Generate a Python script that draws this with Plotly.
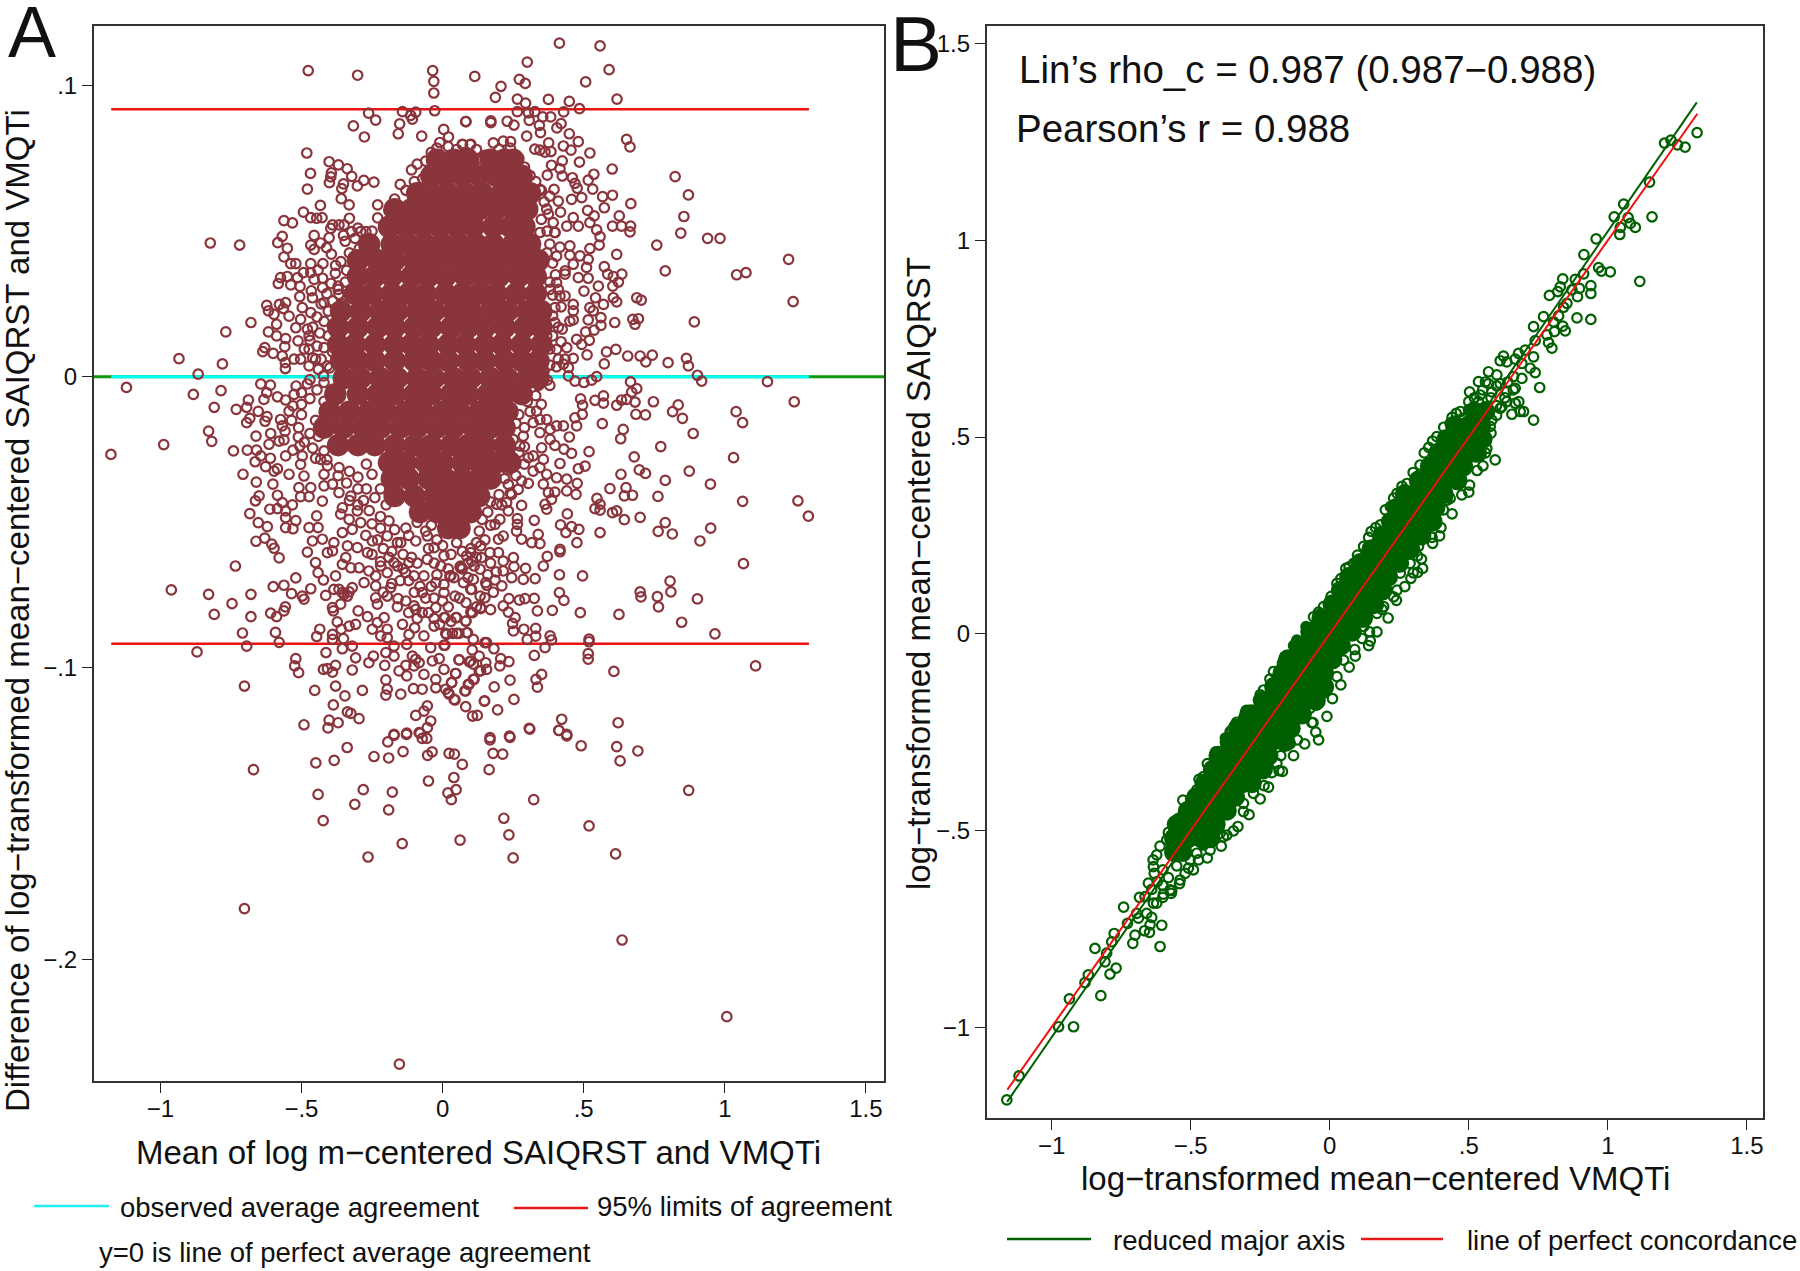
import plotly.graph_objects as go

W, H = 1800, 1271

# ---------- Panel A: values (mean, difference) ----------
a_upper_left = [(-.476,.1051),(-.301,.1035),(-.035,.1051),(-.031,.1014),(-.031,.0974),(-.028,.0913),(-.262,.0905),(-.237,.0881),(-.316,.0861),(-.277,.0823),
(-.142,.0910),(-.113,.0897),(-.095,.0908),(-.107,.0884),(-.152,.0868),(-.157,.0834),(-.074,.0826),(.004,.0849),(.021,.0823),(-.010,.0804),(.082,.0876),(.070,.0798),(.100,.0798),
(-.481,.0768),(-.468,.0698),(-.479,.0644),(-.402,.0738),(-.369,.0727),(-.338,.0714),(-.394,.0700),(-.396,.0686),(-.401,.0666),(-.322,.0688),(-.279,.0674),(-.243,.0668),(-.302,.0655),
(-.351,.0662),(-.357,.0646),(-.359,.0611),(-.331,.0590),(-.433,.0588),(-.493,.0565),(-.467,.0546),(-.446,.0544),(-.427,.0546),(-.562,.0536),(-.532,.0528),(-.330,.0544),
(-.390,.0521),(-.367,.0521),(-.349,.0521),(-.396,.0509),(-.322,.0498),(-.290,.0498),(-.272,.0498),(-.351,.0485),(-.272,.0466),(-.455,.0485),(-.402,.0477),(-.568,.0482),(-.584,.0460),(-.550,.0441),
(-.823,.0459),(-.719,.0452),(-.467,.0452),(-.432,.0459),(-.455,.0437),(-.411,.0443),(-.394,.0421),(-.562,.0411),(-.538,.0388),(-.520,.0388),(-.467,.0388),(-.424,.0388),(-.379,.0382),
(-.493,.0357),(-.441,.0366),(-.467,.0357),(-.574,.0340),(-.550,.0344),(-.582,.0320),(-.514,.0340),(-.455,.0334),(-.425,.0338),(-.538,.0315),(-.505,.0310),(-.425,.0306),(-.370,.0311),
(-.465,.0295),(-.461,.0271),(-.506,.0275),(-.367,.0283),(-.623,.0245),(-.578,.0248),(-.556,.0254),(-.617,.0226),(-.597,.0214),(-.497,.0237),(-.564,.0234),(-.420,.0254),(-.467,.0220),
(-.544,.0208),(-.503,.0197),(-.520,.0168),(-.679,.0186),(-.768,.0154),(-.617,.0154),(-.588,.0180),(-.588,.0140),(-.479,.0163),(-.512,.0123),(-.473,.0140),(-.556,.0131),(-.559,.0103),
(-.630,.0100),(-.637,.0086),(-.600,.0080),(-.568,.0071),(-.934,.0062),(-.780,.0044),(-.866,.0009),(-.557,.0048),(-.557,.0028),(-.526,.0060),(-.503,.0060),(-.473,.0094),(-.473,.0037),(-.450,.0060),(-.408,.0037),(-.422,.0003)]

a_upper_right = [(.414,.1145),(.558,.1136),(.300,.1080),(.590,.1054),(.507,.1012),(.114,.1031),(.207,.0997),(.272,.1021),(.293,.1007),(.187,.0959),(.265,.0953),(.294,.0939),(.375,.0952),(.449,.0945),(.618,.0953),
(.485,.0920),(.265,.0910),(.304,.0906),(.327,.0910),(.429,.0909),(.355,.0892),(.383,.0892),(.083,.0876),(.171,.0878),(.171,.0872),(.229,.0877),(.253,.0864),(.307,.0880),(.343,.0863),(.420,.0869),(.405,.0854),
(.347,.0838),(.298,.0826),(.449,.0834),(.481,.0807),(.428,.0792),(.376,.0803),(.652,.0815),(.664,.0789),(.522,.0768),(.455,.0778),(.327,.0781),(.345,.0778),(.363,.0771),(.384,.0773),(.071,.0797),(.098,.0797),
(.180,.0803),(.215,.0809),(.241,.0807),(.485,.0737),(.424,.0741),(.386,.0726),(.416,.0714),(.601,.0713),(.536,.0695),(.516,.0675),(.532,.0644),(.824,.0687),(.871,.0624),(.424,.0689),(.460,.0683),(.469,.0664),(.477,.0647),
(.371,.0692),(.395,.0643),(.567,.0618),(.602,.0623),(.667,.0594),(.573,.0580),(.410,.0603),(.457,.0609),(.493,.0615),(.418,.0565),(.514,.0571),(.537,.0552),(.626,.0552),(.855,.0550),(.463,.0546),(.375,.0558),
(.602,.0517),(.634,.0517),(.666,.0517),(.664,.0497),(.440,.0517),(.481,.0517),(.522,.0529),(.546,.0504),(.844,.0493),(.939,.0475),(.983,.0475),(.759,.0452),(.558,.0481),(.555,.0452),(.522,.0440),(.416,.0445),(.451,.0449),(.398,.0495),
(.617,.0420),(1.226,.0403),(.487,.0415),(.451,.0417),(.516,.0403),(.463,.0386),(.510,.0375),(.573,.0378),(.635,.0352),(.789,.0363),(1.075,.0357),(1.042,.0350),(.585,.0352),(.605,.0344),(.623,.0325),(.603,.0311),
(.481,.0340),(.516,.0338),(.434,.0352),(.552,.0311),(.501,.0294),(.688,.0271),(.704,.0263),(.605,.0271),(.617,.0257),(.542,.0271),(.570,.0248),(1.242,.0258),(.434,.0277),(.463,.0248),(.463,.0226),(.522,.0237),(.534,.0226),(.561,.0203),
(.694,.0199),(.674,.0197),(.682,.0180),(.892,.0188),(.610,.0186),(.561,.0176),(.516,.0195),(.463,.0195),(.451,.0191),(.537,.0160),(.507,.0154),(.424,.0163),(.520,.0125),(.475,.0128),(.493,.0111),(.440,.0100),(.581,.0085),(.614,.0094),
(.512,.0075),(.463,.0063),(.656,.0071),(.700,.0071),(.743,.0074),(.720,.0051),(.573,.0044),(.799,.0048),(.864,.0063),(.871,.0037),(.428,.0043),(.446,.0031),(.404,.0034),(.903,.0005),(.918,-.0015),(1.151,-.0017),(.357,.0008),(.371,-.0012),
(.446,.0003),(.469,-.0015),(.501,-.0020),(.528,-.0012),(.546,.0000),(.666,-.0018),(.345,.0643),(.380,.0620),(.369,.0575),(.392,.0529),(.345,.0495),(.398,.0495),(.404,.0414),(.434,.0363),(.404,.0323),(.381,.0300),(.416,.0277),(.398,.0237),(.398,.0186),(.369,.0140),(.404,.0094),(.434,.0060)]

a_lower_left = [(-1.120,-.0037),(-.883,-.0061),(-.785,-.0048),(-.809,-.0105),(-.644,-.0025),(-.610,-.0029),(-.519,-.0032),(-.479,-.0025),(-.623,-.0055),(-.633,-.0078),(-.688,-.0080),(-.694,-.0105),(-.731,-.0112),(-.585,-.0069),(-.556,-.0080),(-.526,-.0061),
(-.653,-.0119),(-.622,-.0137),(-.629,-.0153),(-.683,-.0143),(-.694,-.0158),(-.574,-.0147),(-.568,-.0169),(-.558,-.0187),(-.500,-.0095),(-.544,-.0118),(-.829,-.0187),(-.818,-.0222),(-.988,-.0233),(-1.175,-.0267),(-.661,-.0204),
(-.609,-.0195),(-.615,-.0232),(-.579,-.0221),(-.562,-.0217),(-.511,-.0207),(-.506,-.0238),(-.741,-.0255),(-.692,-.0252),(-.659,-.0252),(-.664,-.0292),(-.644,-.0272),(-.610,-.0280),(-.627,-.0309),(-.585,-.0316),(-.597,-.0324),(-.556,-.0272),(-.530,-.0252),(-.497,-.0272),
(-.503,-.0301),(-.544,-.0335),(-.707,-.0335),(-.660,-.0362),(-.601,-.0369),(-.491,-.0341),(-.509,-.0381),(-.467,-.0381),(-.503,-.0412),(-.473,-.0412),(-.585,-.0407),(-.650,-.0409),(-.663,-.0426),(-.568,-.0432),(-.532,-.0440),(-.612,-.0455),
(-.585,-.0453),(-.556,-.0461),(-.683,-.0470),(-.556,-.0484),(-.520,-.0494),(-.653,-.0501),(-.621,-.0515),(-.556,-.0518),(-.530,-.0522),(-.661,-.0565),(-.630,-.0554),(-.605,-.0575),(-.597,-.0589),(-.579,-.0622),(-.734,-.0650),(-.520,-.0691),
(-.961,-.0732),(-.829,-.0747),(-.679,-.0747),(-.600,-.0721),(-.562,-.0716),(-.535,-.0745),(-.497,-.0753),(-.491,-.0764),(-.467,-.0728),(-.746,-.0779),(-.809,-.0816),(-.679,-.0824),(-.609,-.0812),(-.588,-.0824),(-.562,-.0804),(-.557,-.0790),
(-.709,-.0880),(-.592,-.0878),(-.579,-.0912),(-.694,-.0925),(-.870,-.0945),(-.520,-.0968),(-.524,-.0993),(-.510,-.1016),(-.702,-.1062),(-.453,-.1077),(-.379,-.1062),(-.284,-.1077),(-.346,-.1096),(-.387,-.1127),(-.337,-.1151),(-.325,-.1156),(-.296,-.1174),
(-.402,-.1179),(-.370,-.1188),(-.406,-.1206),(-.491,-.1195),(-.413,-.0947),(-.422,-.1005),(-.408,-.1002),(-.379,-.0991),(-.390,-.1014),(-.320,-.1007),(-.308,-.0965),(-.261,-.0982),(-.245,-.0959),(-.355,-.0934),(-.320,-.0925),
(-.205,-.0991),(-.201,-.1041),(-.196,-.1073),(-.201,-.1093),(-.148,-.1090),(-.172,-.0959),(-.201,-.0947),(-.154,-.1010),(-.127,-.1027),(-.130,-.0991),(-.103,-.1071),(-.072,-.1073),(-.066,-.1022),(-.107,-.0959),(-.095,-.0970),(-.083,-.0982),(-.101,-.0993),
(-.024,-.1039),(-.024,-.1068),(.011,-.1073),(.023,-.1090),(.041,-.1108),(.005,-.1005),(.047,-.1019),(.032,-.1050),(.082,-.1079),(.094,-.1056),(.112,-.1039),(.082,-.1133),(.106,-.1165),(.123,-.1163),(.149,-.1113),(-.095,-.1163),(-.054,-.1130),(-.066,-.1148),(-.042,-.1182),(-.054,-.1205),
(-.172,-.1228),(-.127,-.1224),(-.083,-.1222),(.058,-.0972),(.100,-.0976),(.135,-.1010),(.153,-.0982),(-.036,-.0976),(-.012,-.0968),
(-.473,-.0518),(-.441,-.0518),(-.461,-.0564),(-.426,-.0558),(-.385,-.0570),(-.408,-.0604),(-.390,-.0598),(-.479,-.0602),(-.446,-.0478),(-.450,-.0638),(-.441,-.0673),(-.422,-.0698),(-.379,-.0684),(-.385,-.0730),(-.414,-.0751),
(-.355,-.0741),(-.337,-.0753),(-.320,-.0724),(-.278,-.0707),(-.237,-.0718),(-.367,-.0730),(-.349,-.0747),(-.331,-.0739),(-.390,-.0793),(-.361,-.0781),(-.387,-.0804),(-.299,-.0804),(-.266,-.0824),(-.207,-.0827),(-.308,-.0850),(-.331,-.0856),
(-.373,-.0842),(-.359,-.0867),(-.351,-.0899),(-.435,-.0867),(-.446,-.0892),(-.390,-.0885),(-.390,-.0902),(-.249,-.0867),(-.231,-.0844),(-.219,-.0890),(-.196,-.0867),(-.196,-.0896),(-.142,-.0850),(-.099,-.0862),(-.119,-.0885),(-.066,-.0890),(-.030,-.0856),
(-.172,-.0925),(-.127,-.0919),(.005,-.0922),(-.042,-.0930),(.011,-.0881),(.035,-.0881),(.058,-.0881),(.088,-.0879),(-.237,-.0759),(-.196,-.0753),(-.158,-.0762),(-.231,-.0781),(-.184,-.0724),(-.101,-.0787),(-.072,-.0810),(-.024,-.0793),(.005,-.0827),(.047,-.0827),(.082,-.0839),(.106,-.0810),
(.029,-.0684),(.005,-.0713),(.064,-.0656),(.100,-.0730),(.153,-.0707),(.135,-.0793),(-.355,-.0535),(-.320,-.0524),(-.272,-.0545),(-.249,-.0564),(-.337,-.0581),(-.302,-.0587),(-.266,-.0604),(-.343,-.0621),(-.355,-.0644),(-.325,-.0656),(-.296,-.0656),(-.261,-.0667),
(-.219,-.0650),(-.196,-.0673),(-.237,-.0684),(-.172,-.0638),(-.131,-.0673),(-.101,-.0684),(-.196,-.0547),(-.148,-.0570),(-.095,-.0564),(-.054,-.0547),(-.030,-.0587),(.005,-.0615),(-.054,-.0627),(-.006,-.0650),(.064,-.0650),(.112,-.0650),(.100,-.0604),(.135,-.0581),
(-.119,-.0638),(-.066,-.0684),(-.072,-.0741),(-.095,-.0799),(-.024,-.0707),(.005,-.0741),(-.420,-.0375),(-.390,-.0369),(-.367,-.0398),(-.325,-.0410),(-.426,-.0427),(-.355,-.0450),(-.302,-.0461),(-.331,-.0490),(-.361,-.0472),(-.290,-.0501),(-.432,-.0284),(-.408,-.0306),(-.367,-.0312),(-.420,-.0335)]

a_lower_right = [(1.246,-.0086),(1.040,-.0120),(1.063,-.0158),(.747,-.0086),(.835,-.0097),(.815,-.0120),(.850,-.0143),(.888,-.0195),(.685,-.0129),(.719,-.0131),(.688,-.0041),(.670,-.0053),(.682,-.0087),(.617,-.0098),(.634,-.0080),(.652,-.0078),(.570,-.0066),(.570,-.0091),(.540,-.0081),
(.489,-.0076),(.496,-.0098),(.495,-.0129),(.469,-.0141),(.475,-.0169),(.566,-.0161),(.640,-.0181),(.631,-.0213),(.449,-.0207),(.773,-.0240),(.519,-.0257),(.457,-.0263),(.430,-.0249),(.398,-.0236),(.679,-.0275),(1.031,-.0278),(.505,-.0307),(.481,-.0316),(.697,-.0320),(.719,-.0332),(.874,-.0324),(.632,-.0335),
(.416,-.0298),(.369,-.0335),(.404,-.0347),(.440,-.0352),(.789,-.0356),(.949,-.0369),(.477,-.0366),(.593,-.0384),(.650,-.0381),(.644,-.0409),(.673,-.0407),(.763,-.0411),(.473,-.0404),(.440,-.0392),(.398,-.0396),(.357,-.0369),(.375,-.0398),(.386,-.0421),(1.063,-.0428),(1.259,-.0426),(1.296,-.0479),
(.547,-.0418),(.558,-.0438),(.540,-.0453),(.558,-.0458),(.363,-.0438),(.369,-.0455),(.442,-.0471),(.602,-.0467),(.617,-.0461),(.644,-.0491),(.700,-.0483),(.325,-.0493),(.265,-.0487),(.265,-.0507),(.262,-.0530),(.418,-.0509),(.457,-.0515),(.483,-.0524),(.437,-.0535),(.558,-.0535),
(.789,-.0501),(.764,-.0531),(.814,-.0540),(.950,-.0520),(.912,-.0564),(.476,-.0570),(.339,-.0541),(.345,-.0573),(.316,-.0570),(.280,-.0558),(.215,-.0547),(.198,-.0558),(.416,-.0593),(.416,-.0601),(.371,-.0617),(.357,-.0650),(1.066,-.0642),(.414,-.0680),(.496,-.0684),
(.328,-.0693),(.294,-.0658),(.286,-.0696),(.251,-.0621),(.253,-.0652),(.215,-.0667),(.245,-.0690),(.806,-.0702),(.700,-.0739),(.703,-.0756),(.809,-.0739),(.761,-.0755),(.765,-.0790),(.903,-.0763),(.414,-.0741),(.430,-.0768),(.325,-.0761),(.292,-.0762),(.272,-.0767),(.235,-.0762),
(.186,-.0698),(.210,-.0718),(.156,-.0716),(.133,-.0753),(.150,-.0759),(.215,-.0787),(.233,-.0808),(.135,-.0796),(.336,-.0804),(.389,-.0802),(.488,-.0810),(.625,-.0816),(.847,-.0843),(.257,-.0827),(.248,-.0847),(.251,-.0873),(.288,-.0867),(.330,-.0864),(.330,-.0891),(.300,-.0902),
(.381,-.0890),(.386,-.0904),(.519,-.0901),(.519,-.0910),(.965,-.0883),(.363,-.0930),(.325,-.0957),(.516,-.0951),(.516,-.0970),(1.109,-.0993),(.607,-.1012),(.351,-.1022),(.331,-.1039),(.336,-.1066),(.206,-.0968),(.235,-.0978),(.203,-.0993),(.182,-.0934),(.156,-.0913),(.130,-.0959),(.156,-.1005),(.130,-.1010),
(.059,-.0972),(.109,-.0987),(.095,-.0979),(.109,-.1039),(.091,-.1056),(.079,-.1079),(.239,-.1042),(.183,-.1065),(.148,-.1114),(.253,-.1108),(.195,-.1144),(.044,-.1110),(.020,-.1085),(.046,-.1019),(.032,-.1050),(.422,-.1176),(.412,-.1214),(.440,-.1228),(.622,-.1188),(.307,-.1207),(.237,-.1234),(.168,-.1239),
(.014,-.0885),(.050,-.0881),(.085,-.0879),(.109,-.0902),(.150,-.0913),(.008,-.0922),(.105,-.0938),(.062,-.0653),(.026,-.0684),(.074,-.0707),(.103,-.0730),(.109,-.0696),(.044,-.0753),(.083,-.0776),(.100,-.0808),(.050,-.0827),(.083,-.0839),(.009,-.0827),
(.133,-.0661),(.138,-.0621),(.198,-.0604),(.168,-.0604),(.215,-.0633),(.103,-.0633),(.085,-.0615),(.203,-.0490),(.186,-.0507),(.233,-.0461),(.192,-.0438),(.227,-.0432),(.280,-.0442),(.245,-.0404),(.268,-.0387),(.304,-.0366),(.280,-.0358),(.233,-.0370),
(.345,-.0312),(.321,-.0324),(.304,-.0278),(.357,-.0284),(.321,-.0272),(.333,-.0118),(.345,-.0147),(.321,-.0158),(.369,-.0147),(.381,-.0181),(.345,-.0192),(.381,-.0215),(.351,-.0244),(.404,-.0169),(.428,-.0169),(.286,-.0204),(.274,-.0238)]

a_bottom = [(-.670,-.1349),(-.449,-.1326),(-.384,-.1317),(-.338,-.1273),(-.243,-.1304),(-.191,-.1309),(-.140,-.1287),(-.194,-.1254),(-.172,-.1231),(-.128,-.1228),(-.080,-.1224),(-.072,-.1242),(-.056,-.1242),(-.037,-.1288),(-.053,-.1300),(.023,-.1293),(.042,-.1296),(.070,-.1331),(.165,-.1349),(.179,-.1293),(.213,-.1296),
(.168,-.1247),(.239,-.1238),(.309,-.1210),(.412,-.1214),(.440,-.1233),(.491,-.1267),(.617,-.1270),(.692,-.1285),(.629,-.1319),(.040,-.1376),(-.050,-.1388),(.048,-.1418),(.019,-.1429),(.031,-.1452),(-.281,-.1418),(-.178,-.1426),(-.441,-.1434),(-.311,-.1468),(-.191,-.1487),(-.423,-.1524),
(.323,-.1452),(.872,-.1420),(.217,-.1516),(.519,-.1542),(.235,-.1573),(.062,-.1591),(-.143,-.1603),(-.264,-.1649),(.250,-.1652),(.613,-.1638),(-.702,-.1826),(.636,-.1934),(1.007,-.2197),(-.153,-.2360)]

# Rings packed around the saturated centre
a_rim_left = [(-.345,.0465),(-.31,.0475),(-.33,.0425),(-.295,.0440),(-.36,.0395),(-.34,.0365),(-.38,.0355),(-.315,.0345),(-.345,.0325),(-.395,.0320),(-.37,.0300),(-.335,.0285),(-.41,.0285),(-.39,.0260),(-.355,.0250),(-.43,.0250),(-.405,.0225),(-.375,.0215),(-.445,.0205),(-.42,.0190),(-.39,.0175),(-.46,.0170),(-.435,.0150),(-.405,.0140),(-.47,.0125),(-.445,.0105),(-.42,.0100),(-.49,.0095),(-.39,.0085),(-.46,.0065),(-.43,.0060),(-.40,.0030),(-.44,.0025),(-.47,-.0010),(-.42,-.0020),(-.445,-.0045),(-.39,-.0050),(-.50,-.0055),(-.47,-.0075),(-.42,-.0085),(-.53,-.0100),(-.50,-.0130),(-.45,-.0150),(-.535,-.0150),(-.51,-.0175),(-.47,-.0195),(-.44,-.0205),(-.49,-.0225),(-.46,-.0245),(-.42,-.0255),(-.45,-.0280),(-.41,-.0285),(-.37,-.0340),(-.33,-.0325),(-.30,-.0345),(-.34,-.0365),(-.30,-.0385),(-.33,-.0425),(-.28,-.0425),(-.30,-.0440),(-.26,-.0460),(-.22,-.0480),(-.25,-.0505),(-.19,-.0495),(-.22,-.0520),(-.17,-.0525),(-.13,-.0520),(-.12,-.0545),(-.16,-.0570),(-.18,-.0600),(-.14,-.0610),(-.11,-.0620),(-.09,-.0500),(-.06,-.0530),(-.04,-.0510),(-.02,-.0560)]
a_rim_top = [(-.15,.0555),(-.19,.0570),(-.23,.0545),(-.25,.0500),(-.30,.0510),(-.23,.0590),(-.17,.0610),(-.13,.0640),(-.10,.0670),(-.07,.0680),(-.15,.0660),(-.11,.0710),(-.09,.0730),(-.06,.0740),(-.04,.0770),(-.02,.0785),(.02,.0790),(.05,.0780),(.08,.0770),(.12,.0745),(.15,.0760),(.14,.0700),(.20,.0780),(.24,.0785),(.27,.0750),(.29,.0720),(.31,.0690),(.33,.0670),(.12,.0780),(.35,.0640)]
a_rim_right = [(.36,.0600),(.35,.0540),(.37,.0500),(.38,.0455),(.37,.0425),(.39,.0390),(.40,.0350),(.38,.0325),(.41,.0300),(.39,.0280),(.42,.0240),(.39,.0210),(.41,.0170),(.39,.0140),(.42,.0120),(.38,.0095),(.41,.0060),(.38,.0040),(.36,.0020),(.34,-.0030),(.38,-.0030),(.33,-.0065),(.30,-.0085),(.35,-.0095),(.31,-.0120),(.27,-.0130),(.29,-.0175),(.26,-.0160),(.25,-.0215),(.29,-.0240),(.27,-.0260),(.25,-.0285),(.29,-.0300),(.23,-.0320),(.26,-.0340),(.22,-.0350),(.24,-.0400),(.20,-.0405),(.17,-.0430),(.21,-.0440),(.16,-.0465),(.14,-.0490),(.17,-.0510),(.13,-.0530),(.15,-.0560),(.12,-.0570),(.10,-.0590)]
a_rim_below = [(-.23,-.0560),(-.21,-.0590),(-.25,-.0610),(-.22,-.0635),(-.19,-.0620),(-.16,-.0650),(-.14,-.0660),(-.12,-.0700),(-.15,-.0700),(-.18,-.0710),(-.21,-.0740),(-.09,-.0640),(-.05,-.0590),(-.03,-.0640),(.00,-.0580),(.03,-.0610),(.05,-.0570),(.07,-.0600),(.09,-.0640),(.02,-.0660),(.04,-.0690),(.07,-.0660),(.09,-.0690),(-.02,-.0680),(-.04,-.0720),(-.08,-.0720),(-.06,-.0760),(-.03,-.0760),(0,-.0770),(.02,-.0790),(.06,-.0760),(-.10,-.0740),(-.13,-.0770),(-.16,-.0790),(-.12,-.0810),(-.09,-.0830),(-.05,-.0810),(-.03,-.0830),(-.01,-.0850),(.03,-.0840),(.12,-.0620),(.17,-.0640),(.19,-.0670),(.16,-.0680),(.18,-.0740),(.12,-.0790),(.17,-.0800)]
a_rim_lower_left = [(-.27,-.0300),(-.25,-.0335),(-.27,-.0385),(-.24,-.0415),(-.22,-.0385),(-.20,-.0440)]

# Saturated centre of cloud A, where single rings can no longer be told apart
a_core_y = [.0745,.0690,.0630,.0575,.0515,.0455,.0400,.0345,.0285,.0225,.0170,.0110,.0055,-.0005,-.0060,-.0120,-.0175,-.0235,-.0295,-.0350,-.0410,-.0465,-.0520]
a_core_x = [[-.02,.04,.09,.17,.22,.25],[-.04,.01,.07,.13,.19,.24,.28],[-.09,-.04,.02,.08,.14,.21,.26,.31],[-.17,-.11,-.05,.01,.07,.13,.19,.25,.30],[-.19,-.13,-.07,-.01,.05,.11,.18,.24,.29],
[-.26,-.18,-.12,-.06,0,.06,.12,.18,.25,.31],[-.30,-.23,-.17,-.10,-.04,.03,.09,.15,.22,.28,.34],[-.30,-.24,-.18,-.11,-.05,.01,.08,.14,.20,.27,.33],[-.31,-.25,-.18,-.12,-.06,.01,.07,.13,.19,.26,.33],
[-.36,-.29,-.22,-.16,-.09,-.03,.04,.10,.17,.23,.30,.35],[-.37,-.30,-.23,-.17,-.10,-.04,.03,.09,.15,.22,.29,.35],[-.37,-.31,-.24,-.17,-.11,-.05,.02,.08,.15,.21,.28,.35],[-.36,-.30,-.24,-.17,-.10,-.04,.02,.09,.15,.22,.28,.34],
[-.35,-.29,-.22,-.16,-.09,-.03,.04,.10,.17,.23,.30,.34],[-.38,-.30,-.23,-.17,-.10,-.04,.03,.09,.16,.22,.28],[-.40,-.33,-.26,-.20,-.13,-.07,0,.06,.13,.18,.23],[-.42,-.35,-.28,-.22,-.15,-.09,-.02,.04,.11,.17,.22],
[-.37,-.30,-.24,-.17,-.10,-.04,.03,.09,.15,.22],[-.19,-.13,-.06,0,.07,.13,.19,.24],[-.18,-.12,-.05,.01,.07,.13,.17],[-.17,-.10,-.03,.03,.09,.13],[-.08,-.02,.04,.10],[.02,.06]]

a_zero_x = [-1.235, 1.564]
a_zero_y = [0, 0]
a_obs_x = [-1.174, 1.298]
a_obs_y = [0, 0]
a_upper_limit_y = [.0918, .0918]
a_lower_limit_y = [-.0917, -.0917]

# ---------- Panel B: values (VMQTi, SAIQRST) ----------
b_upper = [(1.321,1.274),(1.204,1.247),(1.227,1.255),(1.251,1.243),(1.278,1.237),(1.150,1.148),(1.057,1.092),(1.023,1.060),(1.073,1.058),(1.159,1.060),(1.045,1.033),(1.043,1.015),(1.081,1.043),(1.099,1.033),(.958,1.004),(.914,.964),
(.967,.931),(.977,.922),(1.009,.920),(1.115,.896),(.913,.915),(.883,.901),(.838,.902),(.820,.870),(.790,.860),(.829,.882),(.898,.878),(.871,.874),(.939,.885),(.939,.865),(.891,.857),(.853,.840),(.841,.830),(.769,.806),(.823,.808),(.889,.803),(.939,.799),
(.733,.781),(.805,.793),(.838,.782),(.847,.770),(.808,.768),(.781,.760),(.739,.745),(.787,.740),(.799,.726),(.613,.694),(.625,.706),(.637,.691),(.679,.713),(.703,.721),(.733,.704),(.667,.698),(.691,.687),(.721,.675),(.739,.664),(.571,.666),(.535,.641),(.503,.615),(.755,.626),
(.601,.658),(.571,.636),(.613,.636),(.583,.615),(.661,.654),(.691,.649),(.667,.624),(.637,.615),(.541,.607),(.535,.590),(.559,.577),(.667,.586),(.637,.590),(.613,.573),(.685,.565),(.697,.565),(.655,.558),(.733,.543),(.455,.560),(.499,.569),(.523,.556),(.481,.548)]

b_middle = [(.356,.474),(.595,.442),(.551,.427),(.565,.471),(.577,.527),(.619,.577),(.503,.378),(.475,.353),(.433,.344),(.395,.249),(.368,.245),(.409,.315),(.334,.166),(.316,.156),(.292,.141),(.316,.198),(.254,.154),(.230,.094),(.188,.062),(.143,.005),(.146,-.018),(.116,-.012),(.092,-.057),
(.058,.166),(.149,.260),(.242,.357),(-.124,-.031),(-.085,.018),(-.280,-.194),(-.310,-.215),(-.352,-.245),(-.060,-.226),(-.070,-.189),(-.100,-.207),(-.154,-.058),
(.517,.577),(.433,.535),(.385,.501),(.325,.429),(.278,.382),(.218,.323),(.182,.277),(.122,.222),(.086,.179),(.026,.128),(-.022,.069),(-.058,.043),(-.118,-.016),(-.202,-.096),(-.238,-.143),(-.256,-.168),
(.583,.543),(.541,.493),(.518,.450),(.482,.429),(.470,.391),(.422,.340),(.385,.315),(.355,.272),(.319,.222),(.289,.179),(.242,.111),(.194,.069),(.170,.052),(.122,.018),(.050,-.067),(.026,-.109),(-.022,-.151),(-.046,-.181)]

b_lower = [(-.358,-.249),(-.064,-.226),(-.040,-.270),(-.116,-.270),(-.176,-.310),(-.182,-.348),(-.208,-.353),(-.236,-.386),(-.274,-.406),(-.310,-.452),(-.346,-.501),(-.382,-.516),(-.370,-.512),(-.430,-.550),(-.472,-.575),(-.454,-.537),(-.528,-.423),(-.562,-.505),(-.528,-.467),(-.631,-.609),
(-.568,-.653),(-.598,-.662),(-.684,-.670),(-.741,-.695),(-.688,-.723),(-.640,-.721),(-.604,-.741),(-.646,-.740),(-.666,-.755),(-.648,-.759),(-.700,-.766),(-.708,-.787),(-.610,-.795),(-.727,-.736),(-.775,-.762),(-.784,-.783),(-.844,-.800),(-.802,-.812),(-.808,-.834),(-.768,-.850),(-.790,-.865),
(-.868,-.867),(-.880,-.887),(-.823,-.920),(-.936,-.928),(-.975,-.999),(-.921,-.999),(-1.117,-1.124),(-1.161,-1.185),(-.478,-.558),(-.508,-.596),(-.538,-.626),(-.634,-.685),(-.658,-.711),(-.694,-.711),
(-.454,-.363),(-.478,-.397),(-.526,-.456),(-.586,-.524),(-.622,-.562),(-.634,-.592),(-.652,-.634),(-.664,-.668),(-.142,-.279),(-.190,-.329),(-.274,-.389),(-.310,-.431),(-.394,-.507),(-.454,-.533),(-.502,-.575),(-.520,-.609),(-.574,-.651),(-.622,-.685)]

b_rim_upper_side = [(.50,.59),(.47,.565),(.44,.55),(.41,.525),(.37,.49),(.34,.46),(.30,.41),(.26,.375),(.23,.345),(.20,.315),(.165,.27),(.14,.245),(.10,.20),(.07,.17),(.04,.14),(.005,.095),(-.04,.055),(-.08,.015),(-.13,-.03),(-.17,-.075),(-.215,-.115),(-.25,-.155),(-.30,-.195),(-.335,-.225),(-.375,-.265),(-.41,-.30),(-.44,-.33),(-.47,-.37),(-.50,-.42),(-.545,-.47),(-.58,-.505),(-.61,-.54),(-.635,-.575)]
b_rim_lower_side = [(.60,.555),(.58,.51),(.56,.46),(.53,.415),(.50,.36),(.44,.305),(.40,.27),(.37,.23),(.33,.19),(.30,.155),(.27,.12),(.24,.085),(.21,.04),(.17,.005),(.14,-.03),(.09,-.04),(.07,-.085),(.04,-.13),(.01,-.165),(-.01,-.21),(-.05,-.25),(-.09,-.28),(-.13,-.31),(-.17,-.35),(-.22,-.39),(-.25,-.42),(-.29,-.46),(-.33,-.49),(-.39,-.54),(-.44,-.57),(-.49,-.60),(-.54,-.635),(-.60,-.67)]
b_rim_ends = [(.52,.60),(.55,.62),(.58,.60),(.60,.63),(.63,.60),(.60,.58),(.64,.64),(.66,.62),(.68,.59),(.56,.64),(-.60,-.60),(-.58,-.62),(-.62,-.63),(-.55,-.59),(-.60,-.64),(-.64,-.65),(-.57,-.66)]

# Saturated band of panel B
b_core_y = [.565,.53,.495,.46,.425,.39,.355,.32,.285,.25,.215,.18,.145,.11,.075,.04,.005,-.03,-.065,-.10,-.135,-.17,-.205,-.24,-.275,-.31,-.345,-.38,-.415,-.45,-.485,-.52,-.555]
b_core_x = [[.52,.56],[.45,.50,.545],[.42,.47,.52,.55],[.39,.44,.49,.53],[.36,.41,.46,.48],[.32,.37,.42,.46],[.27,.32,.37,.41],[.24,.29,.34,.38],[.22,.27,.32,.37],[.19,.24,.29,.33],[.15,.20,.25,.29],[.11,.16,.21,.25],[.07,.12,.17,.21],[.04,.09,.14,.19],[.01,.06,.11,.16],
[-.03,.02,.07,.12],[-.07,-.02,.03,.08],[-.11,-.06,-.01,.04],[-.15,-.10,-.05,0,.01],[-.17,-.12,-.07,-.02],[-.20,-.15,-.10,-.05,-.02],[-.24,-.19,-.14,-.09,-.05],[-.29,-.24,-.19,-.14,-.10],[-.33,-.28,-.23,-.18,-.14],[-.36,-.31,-.26,-.21,-.16],[-.40,-.35,-.30,-.25,-.22],[-.42,-.37,-.32,-.27,-.24],
[-.45,-.40,-.35,-.31,-.28],[-.48,-.43,-.38,-.34],[-.51,-.46,-.41,-.37],[-.55,-.50,-.45,-.41],[-.56,-.51,-.46,-.43],[-.56,-.53]]

b_rma_x = [-1.16, 1.32]
b_rma_y = [-1.19, 1.351]
b_conc_x = [-1.159, 1.322]
b_conc_y = [-1.159, 1.322]

# ---------- Axis ticks and texts ----------
a_xticks = [-1, -.5, 0, .5, 1, 1.5]
a_xlabels = ["\u22121", "\u2212.5", "0", ".5", "1", "1.5"]
a_yticks = [.1, 0, -.1, -.2]
a_ylabels = [".1", "0", "\u2212.1", "\u2212.2"]
b_xticks = [-1, -.5, 0, .5, 1, 1.5]
b_xlabels = ["\u22121", "\u2212.5", "0", ".5", "1", "1.5"]
b_yticks = [1.5, 1, .5, 0, -.5, -1]
b_ylabels = ["1.5", "1", ".5", "0", "\u2212.5", "\u22121"]

FONT = "Liberation Sans, Arial, sans-serif"
MAROON = "#8a343c"
DGREEN = "#005f00"
px = lambda v: v / W
py = lambda v: 1 - v / H

def unzip(*groups):
    xs, ys = [], []
    for g in groups:
        for a, b in g:
            xs.append(a); ys.append(b)
    return xs, ys

def rows(ylist, xrows):
    xs, ys = [], []
    for y, r in zip(ylist, xrows):
        for x in r:
            xs.append(x); ys.append(y)
    return xs, ys

fig = go.Figure()

def line(x, y, color, width, xa, ya):
    fig.add_trace(go.Scatter(x=x, y=y, mode="lines", line=dict(color=color, width=width), xaxis=xa, yaxis=ya, showlegend=False, hoverinfo="skip"))

RING = dict(symbol="circle-open", size=9.5)

# Panel A: reference lines sit under the markers
line(a_zero_x, a_zero_y, "#0a9a0a", 3, "x", "y")
line(a_obs_x, a_obs_y, "#00ffff", 3, "x", "y")
line(a_obs_x, a_upper_limit_y, "#f01010", 2.4, "x", "y")
line(a_obs_x, a_lower_limit_y, "#f01010", 2.4, "x", "y")
cx, cy = rows(a_core_y, a_core_x)
fig.add_trace(go.Scatter(x=cx, y=cy, mode="markers", marker=dict(symbol="circle", size=22.5, color=MAROON), showlegend=False, hoverinfo="skip"))
rx, ry = unzip(a_upper_left, a_upper_right, a_lower_left, a_lower_right, a_bottom, a_rim_left, a_rim_top, a_rim_right, a_rim_below, a_rim_lower_left)
fig.add_trace(go.Scatter(x=rx, y=ry, mode="markers", marker=dict(color=MAROON, line=dict(width=2.2, color=MAROON), **RING), showlegend=False))

# Panel B
cx, cy = rows(b_core_y, b_core_x)
fig.add_trace(go.Scatter(x=cx, y=cy, xaxis="x2", yaxis="y2", mode="markers", marker=dict(symbol="circle", size=20, color=DGREEN), showlegend=False, hoverinfo="skip"))
rx, ry = unzip(b_upper, b_middle, b_lower, b_rim_upper_side, b_rim_lower_side, b_rim_ends)
fig.add_trace(go.Scatter(x=rx, y=ry, xaxis="x2", yaxis="y2", mode="markers", marker=dict(color=DGREEN, line=dict(width=2.2, color=DGREEN), **RING), showlegend=False))
line(b_rma_x, b_rma_y, DGREEN, 2, "x2", "y2")
line(b_conc_x, b_conc_y, "#f01010", 2, "x2", "y2")

def axis(domain, rng, tv, tt, size, anchor, lab):
    return dict(domain=domain, range=rng, tickmode="array", tickvals=tv, ticktext=tt,
             ticks="outside", ticklen=10, tickwidth=1.3, tickcolor="#222", ticklabelstandoff=lab,
             tickfont=dict(family=FONT, size=size, color="#111"), showgrid=False, zeroline=False,
             showline=True, linecolor="#333", linewidth=2, mirror=True, anchor=anchor, automargin=False)

layout = dict(width=W, height=H, margin=dict(l=0, r=0, t=0, b=0), paper_bgcolor="white", plot_bgcolor="white", showlegend=False,
    xaxis=axis([px(94), px(884)], [-1.235, 1.564], a_xticks, a_xlabels, 24, "y", -5),
    yaxis=axis([py(1081), py(26)], [-.2418, .1204], a_yticks, a_ylabels, 24, "x", 0),
    xaxis2=axis([px(986.8), px(1763)], [-1.233, 1.558], b_xticks, b_xlabels, 24, "y2", -5),
    yaxis2=axis([py(1118), py(26)], [-1.231, 1.545], b_yticks, b_ylabels, 24, "x2", 0),
)
fig.update_layout(**layout)

def text(x, y, s, size, angle=0, anchor="left"):
    fig.add_annotation(x=px(x), y=py(y), xref="paper", yref="paper", text=s, showarrow=False, xanchor=anchor, yanchor="middle", textangle=angle,
                       font=dict(family=FONT, size=size, color="#111"), align="left", borderpad=0, borderwidth=0)

def seg(x0, x1, y, color, width):
    fig.add_shape(type="line", xref="paper", yref="paper", x0=px(x0), x1=px(x1), y0=py(y), y1=py(y), line=dict(color=color, width=width))

# Panel letters
text(8, 32, "A", 72)
text(890, 44, "B", 78)
# Axis titles sit off-centre in the reference, so they are placed directly
text(478, 1152, "Mean of log m\u2212centered SAIQRST and VMQTi", 33, anchor="center")
text(17, 611, "Difference of log\u2212transformed mean\u2212centered SAIQRST and VMQTi", 33, angle=-90, anchor="center")
text(1375, 1178, "log\u2212transformed mean\u2212centered VMQTi", 33, anchor="center")
text(918, 574, "log\u2212transformed mean\u2212centered SAIQRST", 33, angle=-90, anchor="center")
# Statistics in panel B
text(1019, 70, "Lin\u2019s rho_c = 0.987 (0.987\u22120.988)", 38.5)
text(1016, 128, "Pearson\u2019s r = 0.988", 38.5)
# Legend A
seg(34, 109, 1206, "#20f0f0", 2.5)
text(120, 1207, "observed average agreement", 27.5)
seg(514, 588, 1208, "#e81818", 2.5)
text(597, 1206, "95% limits of agreement", 27.5)
text(99, 1252, "y=0 is line of perfect average agreement", 27.5)
# Legend B
seg(1007, 1091, 1239, DGREEN, 2.5)
text(1113, 1240, "reduced major axis", 27.5)
seg(1361, 1443, 1239, "#e81818", 2.5)
text(1467, 1240, "line of perfect concordance", 27.5)

fig.write_html("out.html", config=dict(displayModeBar=False), post_script="document.body.style.margin='0';document.body.style.overflow='hidden';")
